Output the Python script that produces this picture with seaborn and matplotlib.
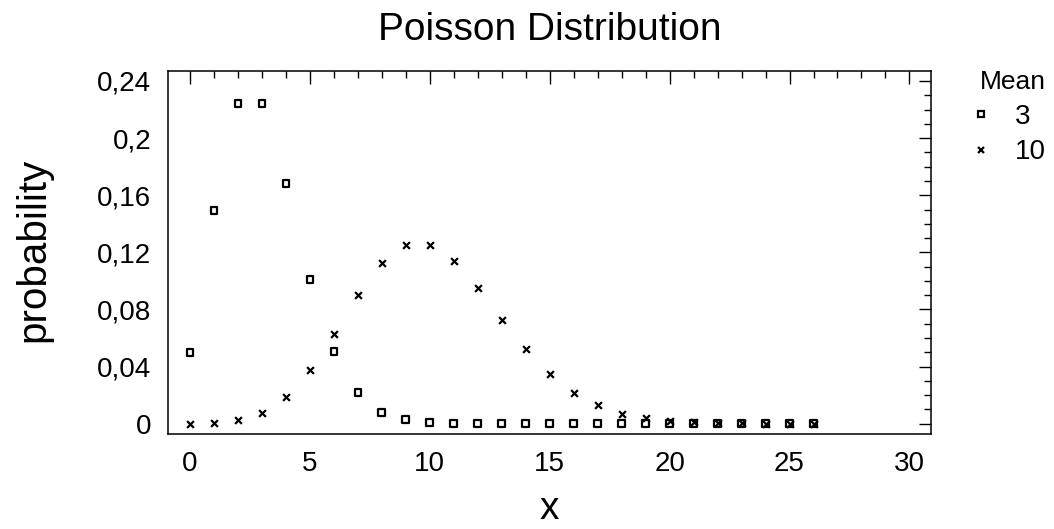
import numpy as np
import pandas as pd
import seaborn as sns
import matplotlib
matplotlib.use("Agg")
import matplotlib.pyplot as plt
from matplotlib.ticker import MultipleLocator, FuncFormatter
from matplotlib.lines import Line2D

# ---- data ----
x_values = list(range(0, 27))
mean3_prob = [0.0498, 0.1494, 0.2240, 0.2240, 0.1680, 0.1008, 0.0504, 0.0216,
              0.0081, 0.0027, 0.0008, 0.0002, 0.0001, 0.0, 0.0, 0.0, 0.0, 0.0,
              0.0, 0.0, 0.0, 0.0, 0.0, 0.0, 0.0, 0.0, 0.0]
mean10_prob = [0.0000, 0.0005, 0.0023, 0.0076, 0.0189, 0.0378, 0.0631, 0.0901,
               0.1126, 0.1251, 0.1251, 0.1137, 0.0948, 0.0729, 0.0521, 0.0347,
               0.0217, 0.0128, 0.0071, 0.0037, 0.0019, 0.0009, 0.0004, 0.0002,
               0.0001, 0.0000, 0.0000]
series_names = ["3", "10"]
x_ticks = [0, 5, 10, 15, 20, 25, 30]
y_ticks = [0, 0.04, 0.08, 0.12, 0.16, 0.2, 0.24]

df = pd.DataFrame({
    "x": x_values * 2,
    "probability": mean3_prob + mean10_prob,
    "Mean": [series_names[0]] * len(x_values) + [series_names[1]] * len(x_values),
})

sns.set_theme(style="white")
plt.rcParams["font.family"] = ["Liberation Sans", "DejaVu Sans"]
plt.rcParams["text.color"] = "black"
plt.rcParams["axes.labelcolor"] = "black"
plt.rcParams["xtick.color"] = "black"
plt.rcParams["ytick.color"] = "black"

fig = plt.figure(figsize=(10.54, 5.29), dpi=100)
ax = fig.add_axes([168 / 1054, 1 - 434 / 529, (931 - 168) / 1054, (434 - 71) / 529])

d3 = df[df["Mean"] == "3"]
d10 = df[df["Mean"] == "10"]
sns.scatterplot(data=d3, x="x", y="probability", marker="s", s=24,
                facecolor="none", edgecolor="black", linewidth=1.6, ax=ax,
                legend=False, zorder=3)
sns.scatterplot(data=d10, x="x", y="probability", marker="x", s=24,
                color="black", linewidth=1.6, ax=ax, legend=False, zorder=3)

ax.set_xlim(-0.92, 30.9)
ax.set_ylim(-0.0072, 0.247)
ax.set_xticks(x_ticks)
ax.set_yticks(y_ticks)
ax.xaxis.set_minor_locator(MultipleLocator(1))
ax.yaxis.set_minor_locator(MultipleLocator(0.01))


def fmt(v, pos):
    s = ("%.2f" % v).rstrip("0").rstrip(".")
    return s.replace(".", ",")


ax.yaxis.set_major_formatter(FuncFormatter(fmt))
ax.tick_params(which="both", direction="in", top=True, right=True,
               color="black", width=1)
ax.tick_params(which="major", length=9)
ax.tick_params(which="minor", length=5)
ax.tick_params(axis="y", which="major", labelsize=20, pad=12)
ax.tick_params(axis="x", which="major", labelsize=20, pad=12)
for sp in ax.spines.values():
    sp.set_color("black")
    sp.set_linewidth(1.1)

ax.set_xlabel("x", fontsize=28, labelpad=10)
ax.set_ylabel("probability", fontsize=29)
ax.yaxis.set_label_coords(-0.152, 0.507)
ax.set_title("Poisson Distribution", fontsize=28, pad=22)

handles = [
    Line2D([], [], marker="s", linestyle="none", markersize=4.5,
           markerfacecolor="none", markeredgecolor="black", markeredgewidth=1.6),
    Line2D([], [], marker="x", linestyle="none", markersize=4.5,
           color="black", markeredgewidth=1.6),
]
leg = ax.legend(handles, series_names, title="Mean", loc="upper left",
                bbox_to_anchor=(959 / 1054, 1 - 56 / 529),
                bbox_transform=fig.transFigure, frameon=False,
                fontsize=20, title_fontsize=19, handletextpad=0.9,
                labelspacing=0.35, handlelength=0.6, borderpad=0)
leg._legend_box.align = "right"

fig.savefig("out.png", dpi=100, facecolor="white")
